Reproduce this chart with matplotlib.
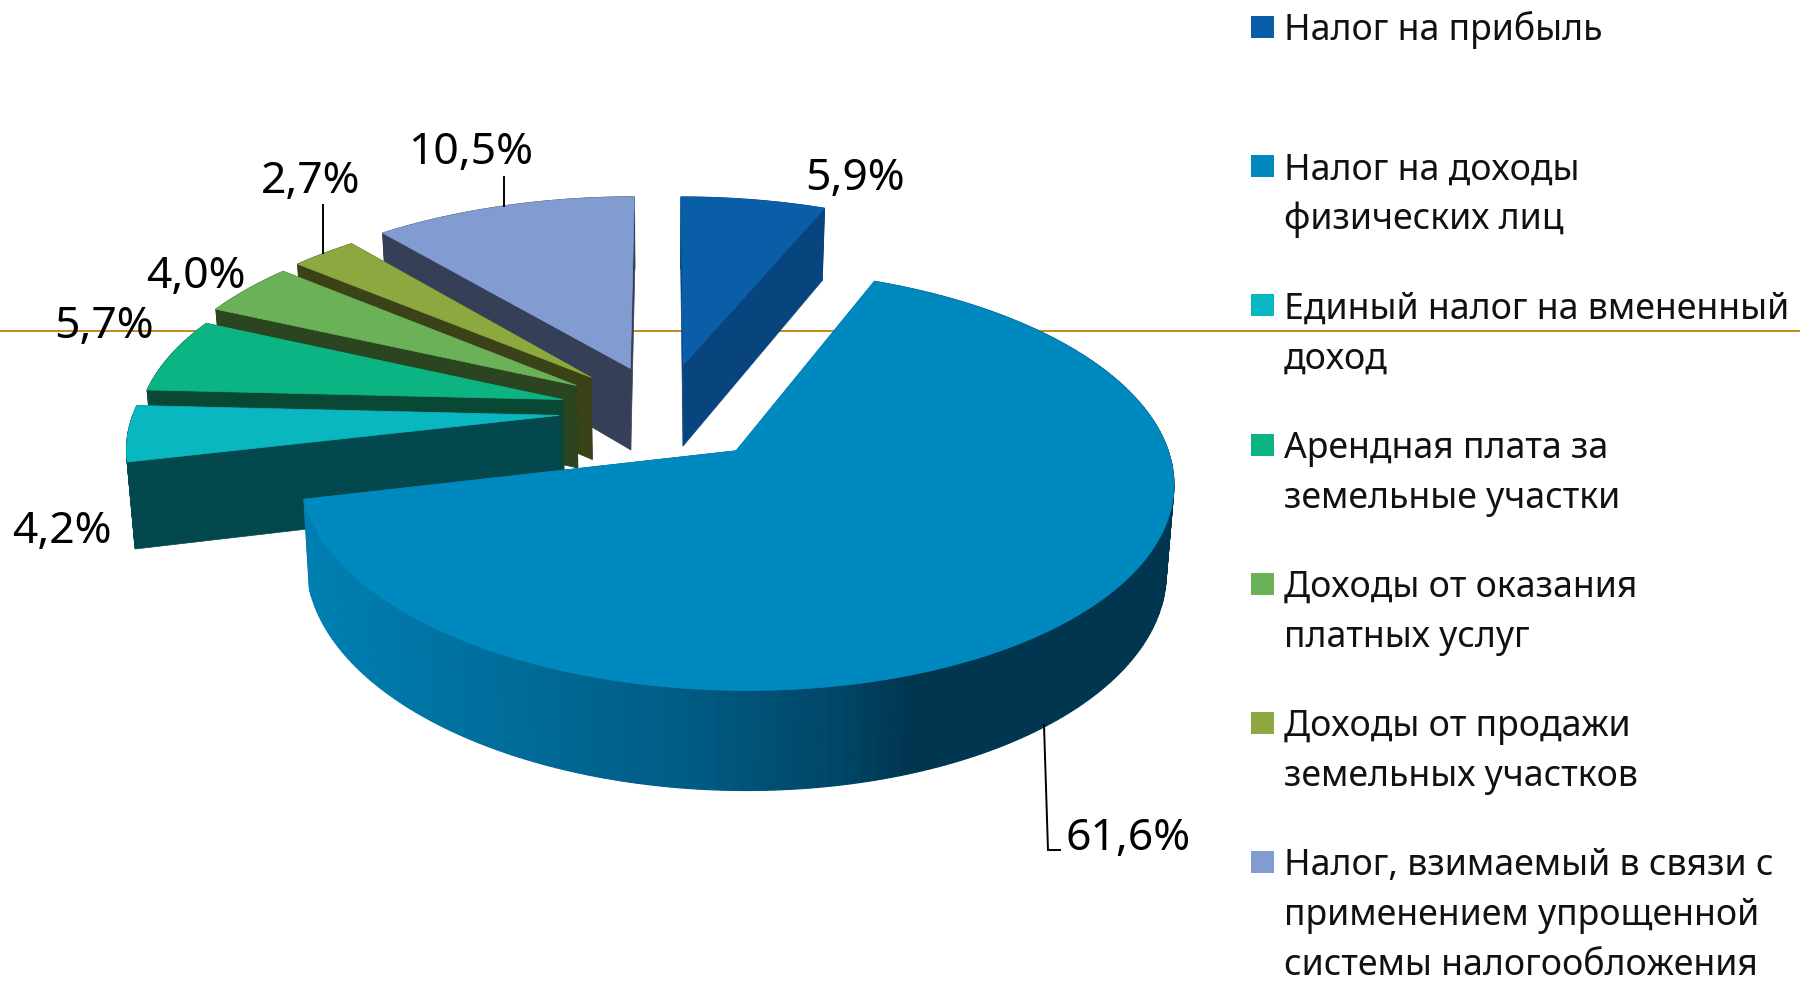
import numpy as np
import matplotlib
matplotlib.use("Agg")
import matplotlib.pyplot as plt
from matplotlib.colors import LinearSegmentedColormap

# ---- data ----
categories = [
    "Налог на прибыль",
    "Налог на доходы\nфизических лиц",
    "Единый налог на вмененный\nдоход",
    "Арендная плата за\nземельные участки",
    "Доходы от оказания\nплатных услуг",
    "Доходы от продажи\nземельных участков",
    "Налог, взимаемый в связи с\nприменением упрощенной\nсистемы налогообложения",
]
values = [5.9, 61.6, 4.2, 5.7, 4.0, 2.7, 10.5]
value_labels = ["5,9%", "61,6%", "4,2%", "5,7%", "4,0%", "2,7%", "10,5%"]

# ---- style ----
top_colors = ["#0A5EA8", "#0089BF", "#08B7BF", "#0CB483", "#6BB158", "#8DA83F", "#829CD2"]
side_colors = ["#08457F", "#006C98", "#03484C", "#0A4836", "#2B4520", "#3C4218", "#353F57"]
explode = [0.24, 0.25, 0.24, 0.24, 0.24, 0.24, 0.23]
radius = [1.0, 0.965, 0.975, 0.97, 0.99, 0.993, 1.02]
label_pos = [(855, 190), (1128, 850), (62, 543), (104, 338), (196, 288), (311, 193), (471, 164)]
leaders = [None, [(1044, 725), (1048, 850), (1060, 850)], None, None, None,
           [(323, 205), (323, 253)], [(504, 177), (504, 206)]]

CX, CY, RX, RY, K, DEPTH, BOTTOM_SCALE = 663.6, 411.0, 436.0, 203.0, 0.139, 84.0, 0.985
wall_cmap = LinearSegmentedColormap.from_list(
    "wall", [(0.0, "#0080B2"), (0.2, "#006F9E"), (0.46, "#005A82"),
             (0.62, "#004666"), (0.7, "#003650"), (1.0, "#003650")])

plt.rcParams["font.family"] = ["Noto Sans", "DejaVu Sans"]
fig = plt.figure(figsize=(18, 9.83), dpi=100, facecolor="white")
ax = fig.add_axes([0, 0, 1, 1])
ax.set_xlim(0, 1800)
ax.set_ylim(983, 0)
ax.axis("off")


def project(u, v, down=False):
    w = 1 + K * v
    x = CX + RX * u / w
    y = CY - RY * v / w
    if down:
        x = CX + (x - CX) * BOTTOM_SCALE
        y = y + DEPTH / w
    return x, y


ax.axhline(331, color="#C08A1E", lw=1.4, zorder=1)

shares = np.array(values) / sum(values) * 360
ends = np.cumsum(shares)
starts = ends - shares
order = [6, 5, 4, 3, 2, 0, 1]   # far slices first, near slices over them
z = 2
for i in order:
    a0, a1 = starts[i], ends[i]
    mid = np.radians((a0 + a1) / 2)
    ax0, ay0 = explode[i] * np.sin(mid), explode[i] * np.cos(mid)
    t = np.radians(np.linspace(a0, a1, max(int(a1 - a0), 12) + 1))
    u = ax0 + radius[i] * np.sin(t)
    v = ay0 + radius[i] * np.cos(t)
    xt, yt = project(u, v)
    xb, yb = project(u, v, True)
    pxt, pyt = project(ax0, ay0)
    pxb, pyb = project(ax0, ay0, True)
    c = side_colors[i]
    # radial cut faces
    for j in (0, -1):
        ax.fill([pxt, xt[j], xb[j], pxb], [pyt, yt[j], yb[j], pyb], color=c, lw=0.5, zorder=z)
    # rim
    for j in range(len(t) - 1):
        col = c
        if i == 1:
            col = wall_cmap(np.clip((xt[j] - 305) / (1175 - 305), 0, 1))
        ax.fill([xt[j], xt[j + 1], xb[j + 1], xb[j]], [yt[j], yt[j + 1], yb[j + 1], yb[j]],
                color=col, lw=0.8, zorder=z)
    # top
    ax.fill(np.r_[pxt, xt], np.r_[pyt, yt], color=top_colors[i], lw=0.5, zorder=z + 0.5)
    z += 1

# data labels and leader lines
for i, txt in enumerate(value_labels):
    ax.text(label_pos[i][0], label_pos[i][1], txt, ha="center", va="baseline",
            fontsize=32, color="black", zorder=30)
    if leaders[i]:
        xs, ys = zip(*leaders[i])
        ax.plot(xs, ys, color="black", lw=1.4, zorder=30, solid_joinstyle="miter")

# legend
item_pitch, line_pitch = 139.2, 50.0
for i, name in enumerate(categories):
    y = 27 + item_pitch * i
    ax.fill([1251, 1274, 1274, 1251], [y - 11, y - 11, y + 11, y + 11],
            color=top_colors[i], lw=0, zorder=30)
    for j, line in enumerate(name.split("\n")):
        ax.text(1284, y + 13 + line_pitch * j, line, ha="left", va="baseline",
                fontsize=25.7, color="#111111", zorder=30)

fig.savefig("out.png", dpi=100, facecolor="white")
